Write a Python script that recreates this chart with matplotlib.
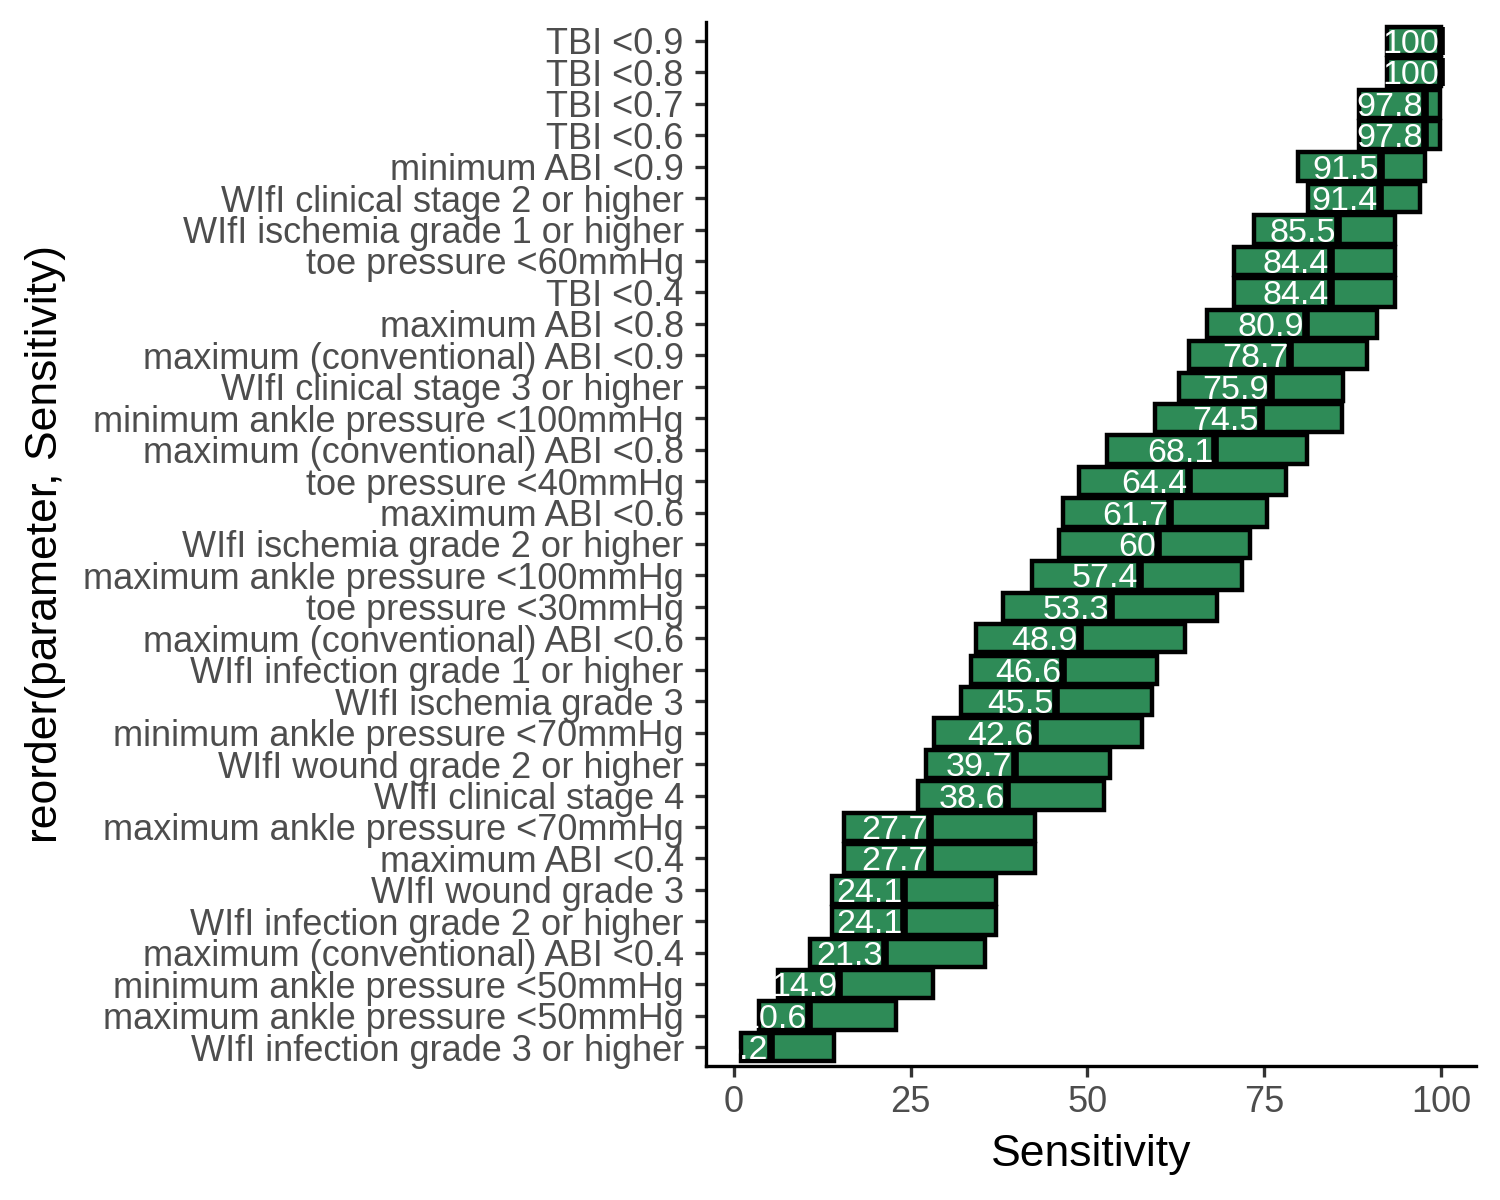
import numpy as np
import matplotlib
matplotlib.use("Agg")
import matplotlib.pyplot as plt

plt.rcParams['font.family'] = ['Liberation Sans', 'DejaVu Sans']

# categories, top to bottom
parameters = [
    "TBI <0.9", "TBI <0.8", "TBI <0.7", "TBI <0.6",
    "minimum ABI <0.9", "WIfI clinical stage 2 or higher",
    "WIfI ischemia grade 1 or higher", "toe pressure <60mmHg", "TBI <0.4",
    "maximum ABI <0.8", "maximum (conventional) ABI <0.9",
    "WIfI clinical stage 3 or higher", "minimum ankle pressure <100mmHg",
    "maximum (conventional) ABI <0.8", "toe pressure <40mmHg",
    "maximum ABI <0.6", "WIfI ischemia grade 2 or higher",
    "maximum ankle pressure <100mmHg", "toe pressure <30mmHg",
    "maximum (conventional) ABI <0.6", "WIfI infection grade 1 or higher",
    "WIfI ischemia grade 3", "minimum ankle pressure <70mmHg",
    "WIfI wound grade 2 or higher", "WIfI clinical stage 4",
    "maximum ankle pressure <70mmHg", "maximum ABI <0.4",
    "WIfI wound grade 3", "WIfI infection grade 2 or higher",
    "maximum (conventional) ABI <0.4", "minimum ankle pressure <50mmHg",
    "maximum ankle pressure <50mmHg", "WIfI infection grade 3 or higher",
]
sensitivity = [100, 100, 97.8, 97.8, 91.5, 91.4, 85.5, 84.4, 84.4, 80.9, 78.7,
               75.9, 74.5, 68.1, 64.4, 61.7, 60, 57.4, 53.3, 48.9, 46.6, 45.5,
               42.6, 39.7, 38.6, 27.7, 27.7, 24.1, 24.1, 21.3, 14.9, 10.6, 5.2]
ci_lower = [92.3, 92.3, 88.4, 88.4, 79.8, 81.2, 73.5, 70.7, 70.7, 66.9, 64.4,
            63.0, 59.6, 52.8, 48.8, 46.5, 46.0, 42.2, 38.0, 34.2, 33.5, 32.1,
            28.3, 27.2, 26.0, 15.6, 15.6, 13.9, 13.9, 10.7, 6.2, 3.5, 1.0]
ci_upper = [100, 100, 99.8, 99.8, 97.7, 97.1, 93.5, 93.5, 93.5, 90.9, 89.5,
            86.2, 86.0, 81.0, 78.1, 75.4, 73.0, 71.8, 68.3, 63.8, 59.8, 59.1,
            57.7, 53.2, 52.3, 42.6, 42.6, 37.0, 37.0, 35.5, 28.2, 22.9, 14.2]
x_ticks = [0, 25, 50, 75, 100]

n = len(parameters)
ypos = np.arange(n)[::-1]
lo = np.array(ci_lower)
hi = np.array(ci_upper)
sens = np.array(sensitivity)

fig = plt.figure(figsize=(15, 12), dpi=100)
ax = fig.add_axes([0.4707, 0.1117, 0.5133, 0.87])

green = "#2E8B57"
ax.barh(ypos, hi - lo, left=lo, height=0.9, color=green, edgecolor="black",
        linewidth=3.2, zorder=2)
ax.vlines(sens, ypos - 0.45, ypos + 0.45, color="black", linewidth=5.5, zorder=3)
for y, s in zip(ypos, sens):
    ax.text(s - 0.3, y, f"{s:g}", color="white", ha="right", va="center_baseline",
            fontsize=24.5, zorder=4)

xmin, xmax = lo.min(), hi.max()
pad = 0.05 * (xmax - xmin)
ax.set_xlim(xmin - pad, xmax + pad)
ax.set_ylim(-0.6, n - 1 + 0.6)

ax.set_yticks(ypos)
ax.set_yticklabels(parameters)
ax.set_xticks(x_ticks)
ax.tick_params(axis="both", labelsize=26, labelcolor="#4D4D4D", color="#333333",
               width=2.4, length=8)
ax.tick_params(axis="y", pad=8)
ax.tick_params(axis="x", pad=6)

for side in ["top", "right"]:
    ax.spines[side].set_visible(False)
for side in ["left", "bottom"]:
    ax.spines[side].set_linewidth(2.4)
    ax.spines[side].set_color("black")

ax.set_xlabel("Sensitivity", fontsize=32, color="black", labelpad=10)
ax.set_ylabel("reorder(parameter, Sensitivity)", fontsize=32, color="black")
ax.yaxis.set_label_coords(-0.858, 0.5)
ax.yaxis.label.set_va("center")

fig.savefig("out.png", dpi=100, facecolor="white")
